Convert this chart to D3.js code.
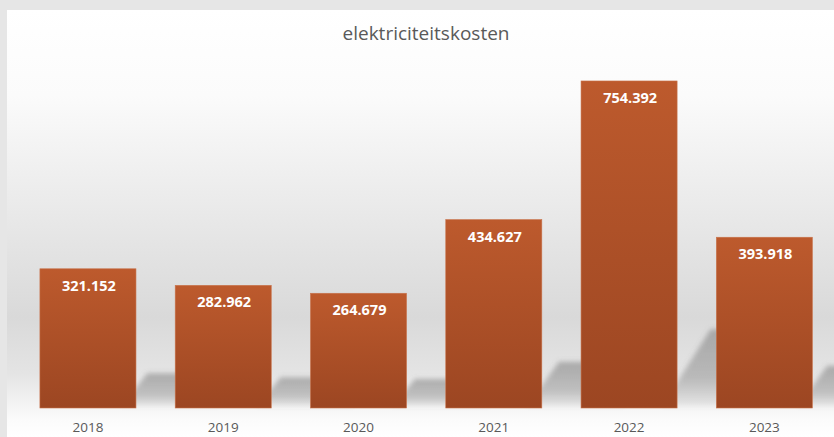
<!DOCTYPE html>
<html>
<head>
<meta charset="utf-8">
<script src="https://cdn.jsdelivr.net/npm/d3@7"></script>
<style>
  body { margin: 0; padding: 0; background: #e6e6e6; }
  svg { display: block; }
</style>
</head>
<body>
<div id="chart"></div>
<script>
var svgWidth = 834;
var svgHeight = 437;

// data
var years = ["2018", "2019", "2020", "2021", "2022", "2023"];
var costs = [321.152, 282.962, 264.679, 434.627, 754.392, 393.918];
var costLabels = ["321.152", "282.962", "264.679", "434.627", "754.392", "393.918"];

var chartTitle = "elektriciteitskosten";

var svg = d3.select("#chart")
  .append("svg")
  .attr("width", svgWidth)
  .attr("height", svgHeight);

var defs = svg.append("defs");

// background gradient: white top, grey band low, white at the bottom
var bgGrad = defs.append("linearGradient")
  .attr("id", "bgGrad")
  .attr("x1", 0).attr("y1", 0).attr("x2", 0).attr("y2", 1);
bgGrad.append("stop").attr("offset", "0%").attr("stop-color", "#ffffff");
bgGrad.append("stop").attr("offset", "20%").attr("stop-color", "#fbfbfb");
bgGrad.append("stop").attr("offset", "72%").attr("stop-color", "#d9d9d9");
bgGrad.append("stop").attr("offset", "85%").attr("stop-color", "#e4e4e4");
bgGrad.append("stop").attr("offset", "96%").attr("stop-color", "#fbfbfb");
bgGrad.append("stop").attr("offset", "100%").attr("stop-color", "#ffffff");

// bar gradient
var barGrad = defs.append("linearGradient")
  .attr("id", "barGrad")
  .attr("x1", 0).attr("y1", 0).attr("x2", 0).attr("y2", 1);
barGrad.append("stop").attr("offset", "0%").attr("stop-color", "#bd5a2d");
barGrad.append("stop").attr("offset", "100%").attr("stop-color", "#9c4622");

// shadow fill: strongest at its top edge, fading to the ground
var shadowGrad = defs.append("linearGradient")
  .attr("id", "shadowGrad")
  .attr("x1", 0).attr("y1", 0).attr("x2", 0).attr("y2", 1);
shadowGrad.append("stop").attr("offset", "0%").attr("stop-color", "#6e6e6e").attr("stop-opacity", 0.48);
shadowGrad.append("stop").attr("offset", "65%").attr("stop-color", "#6e6e6e").attr("stop-opacity", 0.36);
shadowGrad.append("stop").attr("offset", "100%").attr("stop-color", "#6e6e6e").attr("stop-opacity", 0.1);

// blur for the shadows
defs.append("filter")
  .attr("id", "blur")
  .attr("x", "-20%").attr("y", "-20%")
  .attr("width", "140%").attr("height", "140%")
  .append("feGaussianBlur")
  .attr("stdDeviation", 2.5);

// frame + plot background
svg.append("rect")
  .attr("x", 0).attr("y", 0)
  .attr("width", svgWidth).attr("height", svgHeight)
  .attr("fill", "#e6e6e6");

svg.append("rect")
  .attr("x", 7).attr("y", 10)
  .attr("width", svgWidth - 7).attr("height", svgHeight - 10)
  .attr("fill", "url(#bgGrad)");

// scales
var xScale = d3.scaleBand()
  .domain(years)
  .range([20.3, 832])
  .paddingInner(0.29)
  .paddingOuter(0.145);

var yScale = d3.scaleLinear()
  .domain([0, 800])
  .range([408, 61.2]);

var data = years.map(function(y, i) {
  return { year: y, value: costs[i], label: costLabels[i] };
});

// perspective shadows, thrown to the upper right of each bar
var shadowGroup = svg.append("g")
  .attr("filter", "url(#blur)");

shadowGroup.selectAll("polygon")
  .data(data)
  .enter()
  .append("polygon")
  .attr("points", function(d) {
    var x1 = xScale(d.year) + xScale.bandwidth();
    var w = xScale.bandwidth();
    var yb = yScale(0) - 2;
    var rise = (yScale(0) - yScale(d.value)) * 0.235;
    var dx = rise * 0.5 + 10;
    var xs = x1 - 15;
    return [[xs, yb], [xs + dx, yb - rise], [xs + w + dx, yb - rise], [xs + w, yb]]
      .map(function(p) { return p.join(","); }).join(" ");
  })
  .attr("fill", "url(#shadowGrad)");

// bars
svg.append("g")
  .selectAll("rect")
  .data(data)
  .enter()
  .append("rect")
  .attr("x", d => xScale(d.year))
  .attr("y", d => yScale(d.value))
  .attr("width", xScale.bandwidth())
  .attr("height", d => yScale(0) - yScale(d.value))
  .attr("fill", "url(#barGrad)")
  .attr("stroke", "#c8734b")
  .attr("stroke-width", 0.6);

// value labels inside the bars
svg.append("g")
  .selectAll("text")
  .data(data)
  .enter()
  .append("text")
  .attr("x", d => xScale(d.year) + xScale.bandwidth() / 2 + 1)
  .attr("y", d => yScale(d.value) + 22)
  .attr("text-anchor", "middle")
  .attr("font-family", "'Open Sans', sans-serif")
  .attr("font-weight", "bold")
  .attr("font-size", "14.5px")
  .attr("fill", "#ffffff")
  .text(d => d.label);

// x axis labels
var xAxis = d3.axisBottom(xScale).tickSize(0).tickPadding(14);
var xAxisGroup = svg.append("g")
  .attr("transform", "translate(0," + yScale(0) + ")")
  .call(xAxis);
xAxisGroup.select(".domain").remove();
xAxisGroup.selectAll("text")
  .attr("font-family", "'Open Sans', sans-serif")
  .attr("font-size", "13.5px")
  .attr("fill", "#595959");

// title
svg.append("text")
  .attr("x", 426)
  .attr("y", 40)
  .attr("text-anchor", "middle")
  .attr("font-family", "'Open Sans', sans-serif")
  .attr("font-size", "19px")
  .attr("fill", "#595959")
  .text(chartTitle);
</script>
</body>
</html>
